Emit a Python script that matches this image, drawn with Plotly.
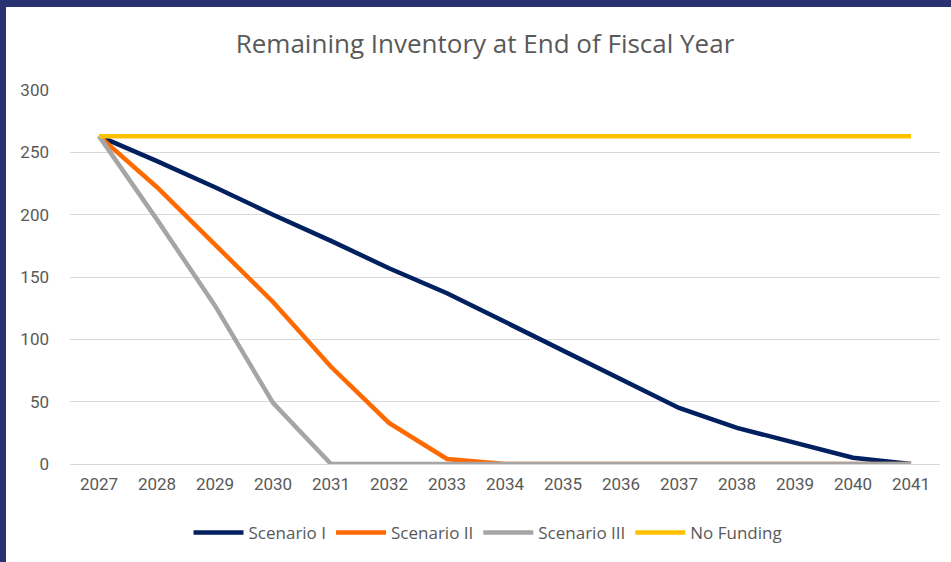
import plotly.graph_objects as go

years = list(range(2027, 2042))
scenario_1 = [263, 243, 222, 200, 179, 157, 137, 114, 91, 68, 45, 29, 17, 5, 0]
scenario_2 = [263, 222, 176, 130, 78, 33, 4, 0, 0, 0, 0, 0, 0, 0, 0]
scenario_3 = [263, 196, 127, 49, 0, 0, 0, 0, 0, 0, 0, 0, 0, 0, 0]
no_funding = [263] * 15
series_names = ["Scenario I", "Scenario II", "Scenario III", "No Funding"]
colors = ["#002060", "#FF6A00", "#A5A5A5", "#FFC000"]
y_ticks = [0, 50, 100, 150, 200, 250, 300]

fig = go.Figure()
for name, vals, c in zip(series_names, [scenario_1, scenario_2, scenario_3, no_funding], colors):
    fig.add_trace(go.Scatter(x=years, y=vals, name=name, mode="lines",
                             line=dict(color=c, width=4.5)))

W, H = 951, 562
L, R, T, B = 70, 11, 90, 98
pw, ph = W - L - R, H - T - B

def px(x):
    return (x - L) / pw

def py(y):
    return (H - B - y) / ph

shapes = [
    dict(type="rect", xref="paper", yref="paper", x0=px(0), x1=px(6), y0=py(H), y1=py(0),
         fillcolor="#283270", line=dict(width=0), layer="above"),
    dict(type="rect", xref="paper", yref="paper", x0=px(0), x1=px(W), y0=py(7), y1=py(0),
         fillcolor="#283270", line=dict(width=0), layer="above"),
]

fig.update_layout(
    width=W, height=H,
    margin=dict(l=L, r=R, t=T, b=B),
    paper_bgcolor="white", plot_bgcolor="white",
    title=dict(text="Remaining Inventory at End of Fiscal Year", x=px(485), xref="paper",
               xanchor="center", y=1 - 44 / H, yanchor="middle",
               font=dict(family="Open Sans", size=26, color="#595959")),
    xaxis=dict(range=[2026.5, 2041.5], tickvals=years, ticktext=[str(y) for y in years],
               showgrid=False, zeroline=False, showline=False, ticks="",
               ticklabelstandoff=8,
               tickfont=dict(family="Roboto", size=17, color="#595959")),
    yaxis=dict(range=[0, 300], tickvals=y_ticks, showgrid=True, gridcolor="#D9D9D9",
               gridwidth=1.3, zeroline=True, zerolinecolor="#D9D9D9", zerolinewidth=1.3,
               showline=False, ticks="", ticklabelstandoff=20,
               tickfont=dict(family="Roboto", size=17, color="#595959")),
    legend=dict(orientation="h", x=px(488), xanchor="center", y=py(533), yanchor="middle",
                font=dict(family="Open Sans", size=17, color="#595959"),
                itemwidth=50, traceorder="normal"),
    shapes=shapes,
    showlegend=True,
)

fig.write_html("out.html")
